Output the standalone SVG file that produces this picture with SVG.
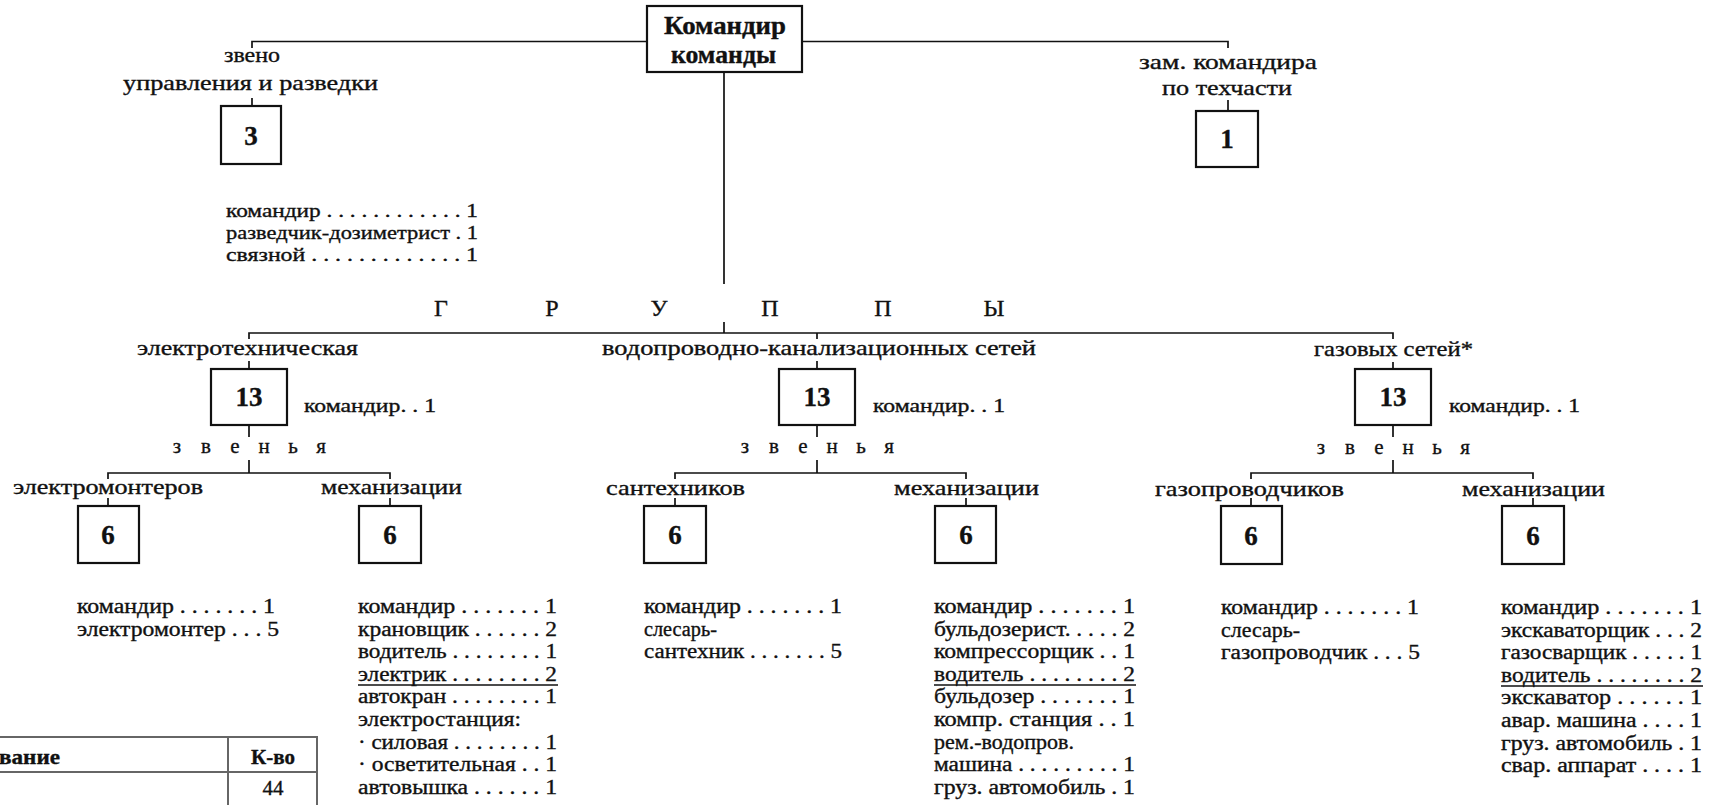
<svg xmlns="http://www.w3.org/2000/svg" width="1723" height="805" viewBox="0 0 1723 805">
<style>
text{font-family:"Liberation Serif","Times New Roman",serif;fill:#111;stroke:#111;stroke-width:0.35}
.lbl{font-size:21px}
.lst{font-size:20px}
.sm{font-size:19px}
.big{font-size:24px}
.b{font-weight:bold}
.num{font-weight:bold;font-size:27px;text-anchor:middle}
.mid{text-anchor:middle}
.box{fill:#fff;stroke:#111;stroke-width:2.2}
.ln{fill:none;stroke:#111;stroke-width:1.7}
.ul{fill:none;stroke:#111;stroke-width:1.5}
.tb{fill:none;stroke:#666;stroke-width:2}
</style>
<rect width="1723" height="805" fill="#fff"/>

<g id="connectors">
  <path class="ln" d="M252 48V41.5H647M802 41.5H1228V48"/>
  <path class="ln" d="M252 98V106"/>
  <path class="ln" d="M1228 100V111"/>
  <path class="ln" d="M724 72V284M724 322V333"/>
  <path class="ln" d="M249 339V333H1393V339M817 333V339"/>
  <path class="ln" d="M249 361V369M817 361V369M1393 362V369"/>
  <path class="ln" d="M249 425V437M249 460V473M817 425V437M817 460V473M1393 425V437M1393 460V473"/>
  <path class="ln" d="M108 479V473H390V479"/>
  <path class="ln" d="M675 479V473H966V479"/>
  <path class="ln" d="M1251 479V473H1533V479"/>
  <path class="ln" d="M108 498V506M390 498V506M675 498V506M966 498V506M1251 498V506M1533 498V506"/>
</g>

<g id="commander">
  <rect class="box" x="647" y="6" width="155" height="66"/>
  <text class="b" font-size="25" x="664" y="34" textLength="122" lengthAdjust="spacingAndGlyphs">Командир</text>
  <text class="b" font-size="25" x="671" y="63" textLength="105" lengthAdjust="spacingAndGlyphs">команды</text>
</g>

<g id="recon">
  <text class="lbl" x="224" y="62" textLength="56" lengthAdjust="spacingAndGlyphs">звено</text>
  <text class="lbl" x="123" y="90" textLength="255" lengthAdjust="spacingAndGlyphs">управления и разведки</text>
  <rect class="box" x="221" y="106" width="60" height="58"/>
  <text class="num" x="251" y="145">3</text>
  <text class="sm" x="226" y="217" textLength="252" lengthAdjust="spacingAndGlyphs">командир . . . . . . . . . . . . 1</text>
  <text class="sm" x="226" y="239" textLength="252" lengthAdjust="spacingAndGlyphs">разведчик-дозиметрист . 1</text>
  <text class="sm" x="226" y="261" textLength="252" lengthAdjust="spacingAndGlyphs">связной . . . . . . . . . . . . . 1</text>
</g>

<g id="deputy">
  <text class="lbl" x="1139" y="69" textLength="178" lengthAdjust="spacingAndGlyphs">зам.  командира</text>
  <text class="lbl" x="1162" y="95" textLength="130" lengthAdjust="spacingAndGlyphs">по техчасти</text>
  <rect class="box" x="1196" y="111" width="62" height="56"/>
  <text class="num" x="1227" y="148">1</text>
</g>

<g id="groups-title">
  <text class="big mid" x="441" y="316">Г</text>
  <text class="big mid" x="552" y="316">Р</text>
  <text class="big mid" x="659" y="316">У</text>
  <text class="big mid" x="770" y="316">П</text>
  <text class="big mid" x="883" y="316">П</text>
  <text class="big mid" x="994" y="316">Ы</text>
</g>

<g id="group-electro">
  <text class="lbl" x="137" y="355" textLength="221" lengthAdjust="spacingAndGlyphs">электротехническая</text>
  <rect class="box" x="211" y="369" width="76" height="56"/>
  <text class="num" x="249" y="406">13</text>
  <text class="sm" x="304" y="412" textLength="132" lengthAdjust="spacingAndGlyphs">командир. . 1</text>
  <text class="lbl mid" x="177 206 235 264 293 321" y="453">звенья</text>
</g>
<g id="group-water">
  <text class="lbl" x="602" y="355" textLength="434" lengthAdjust="spacingAndGlyphs">водопроводно-канализационных сетей</text>
  <rect class="box" x="779" y="369" width="76" height="56"/>
  <text class="num" x="817" y="406">13</text>
  <text class="sm" x="873" y="412" textLength="132" lengthAdjust="spacingAndGlyphs">командир. . 1</text>
  <text class="lbl mid" x="745 774 803 832 861 889" y="453">звенья</text>
</g>
<g id="group-gas">
  <text class="lbl" x="1314" y="356" textLength="159" lengthAdjust="spacingAndGlyphs">газовых сетей*</text>
  <rect class="box" x="1355" y="369" width="76" height="56"/>
  <text class="num" x="1393" y="406">13</text>
  <text class="sm" x="1449" y="412" textLength="131" lengthAdjust="spacingAndGlyphs">командир. . 1</text>
  <text class="lbl mid" x="1321 1350 1379 1408 1437 1465" y="454">звенья</text>
</g>

<g id="unit-electricians">
  <text class="lbl" x="13" y="494" textLength="190" lengthAdjust="spacingAndGlyphs">электромонтеров</text>
  <rect class="box" x="78" y="506" width="61" height="57"/>
  <text class="num" x="108" y="544">6</text>
  <text class="lst" x="77" y="613" textLength="198" lengthAdjust="spacingAndGlyphs">командир . . . . . . . 1</text>
  <text class="lst" x="77" y="636" textLength="202" lengthAdjust="spacingAndGlyphs">электромонтер . . . 5</text>
</g>

<g id="unit-mech-1">
  <text class="lbl" x="321" y="494" textLength="141" lengthAdjust="spacingAndGlyphs">механизации</text>
  <rect class="box" x="359" y="506" width="62" height="57"/>
  <text class="num" x="390" y="544">6</text>
  <text class="lst" x="358" y="613" textLength="199" lengthAdjust="spacingAndGlyphs">командир . . . . . . . 1</text>
  <text class="lst" x="358" y="636" textLength="199" lengthAdjust="spacingAndGlyphs">крановщик . . . . . . 2</text>
  <text class="lst" x="358" y="658" textLength="199" lengthAdjust="spacingAndGlyphs">водитель . . . . . . . . 1</text>
  <text class="lst" x="358" y="681" textLength="199" lengthAdjust="spacingAndGlyphs">электрик . . . . . . . . 2</text>
  <text class="lst" x="358" y="703" textLength="199" lengthAdjust="spacingAndGlyphs">автокран . . . . . . . . 1</text>
  <text class="lst" x="358" y="726" textLength="163" lengthAdjust="spacingAndGlyphs">электростанция:</text>
  <text class="lst" x="358" y="749" textLength="199" lengthAdjust="spacingAndGlyphs">· силовая . . . . . . . . 1</text>
  <text class="lst" x="358" y="771" textLength="199" lengthAdjust="spacingAndGlyphs">· осветительная . . 1</text>
  <text class="lst" x="358" y="794" textLength="199" lengthAdjust="spacingAndGlyphs">автовышка . . . . . . 1</text>
  <path class="ul" d="M358 685H558"/>
</g>

<g id="unit-plumbers">
  <text class="lbl" x="606" y="495" textLength="139" lengthAdjust="spacingAndGlyphs">сантехников</text>
  <rect class="box" x="644" y="506" width="62" height="57"/>
  <text class="num" x="675" y="544">6</text>
  <text class="lst" x="644" y="613" textLength="198" lengthAdjust="spacingAndGlyphs">командир . . . . . . . 1</text>
  <text class="lst" x="644" y="636" textLength="73" lengthAdjust="spacingAndGlyphs">слесарь-</text>
  <text class="lst" x="644" y="658" textLength="198" lengthAdjust="spacingAndGlyphs">сантехник . . . . . . . 5</text>
</g>

<g id="unit-mech-2">
  <text class="lbl" x="894" y="495" textLength="145" lengthAdjust="spacingAndGlyphs">механизации</text>
  <rect class="box" x="935" y="506" width="61" height="57"/>
  <text class="num" x="966" y="544">6</text>
  <text class="lst" x="934" y="613" textLength="201" lengthAdjust="spacingAndGlyphs">командир . . . . . . . 1</text>
  <text class="lst" x="934" y="636" textLength="201" lengthAdjust="spacingAndGlyphs">бульдозерист. . . . . 2</text>
  <text class="lst" x="934" y="658" textLength="201" lengthAdjust="spacingAndGlyphs">компрессорщик . . 1</text>
  <text class="lst" x="934" y="681" textLength="201" lengthAdjust="spacingAndGlyphs">водитель . . . . . . . . 2</text>
  <text class="lst" x="934" y="703" textLength="201" lengthAdjust="spacingAndGlyphs">бульдозер . . . . . . . 1</text>
  <text class="lst" x="934" y="726" textLength="201" lengthAdjust="spacingAndGlyphs">компр.  станция . . 1</text>
  <text class="lst" x="934" y="749" textLength="140" lengthAdjust="spacingAndGlyphs">рем.-водопров.</text>
  <text class="lst" x="934" y="771" textLength="201" lengthAdjust="spacingAndGlyphs">машина . . . . . . . . . 1</text>
  <text class="lst" x="934" y="794" textLength="201" lengthAdjust="spacingAndGlyphs">груз.  автомобиль . 1</text>
  <path class="ul" d="M934 685H1136"/>
</g>

<g id="unit-gasfitters">
  <text class="lbl" x="1155" y="496" textLength="189" lengthAdjust="spacingAndGlyphs">газопроводчиков</text>
  <rect class="box" x="1221" y="506" width="61" height="58"/>
  <text class="num" x="1251" y="545">6</text>
  <text class="lst" x="1221" y="614" textLength="198" lengthAdjust="spacingAndGlyphs">командир . . . . . . . 1</text>
  <text class="lst" x="1221" y="637" textLength="79" lengthAdjust="spacingAndGlyphs">слесарь-</text>
  <text class="lst" x="1221" y="659" textLength="199" lengthAdjust="spacingAndGlyphs">газопроводчик . . . 5</text>
</g>

<g id="unit-mech-3">
  <text class="lbl" x="1462" y="496" textLength="143" lengthAdjust="spacingAndGlyphs">механизации</text>
  <rect class="box" x="1502" y="506" width="62" height="58"/>
  <text class="num" x="1533" y="545">6</text>
  <text class="lst" x="1501" y="614" textLength="201" lengthAdjust="spacingAndGlyphs">командир . . . . . . . 1</text>
  <text class="lst" x="1501" y="637" textLength="201" lengthAdjust="spacingAndGlyphs">экскаваторщик . . . 2</text>
  <text class="lst" x="1501" y="659" textLength="201" lengthAdjust="spacingAndGlyphs">газосварщик . . . . . 1</text>
  <text class="lst" x="1501" y="682" textLength="201" lengthAdjust="spacingAndGlyphs">водитель . . . . . . . . 2</text>
  <text class="lst" x="1501" y="704" textLength="201" lengthAdjust="spacingAndGlyphs">экскаватор . . . . . . 1</text>
  <text class="lst" x="1501" y="727" textLength="201" lengthAdjust="spacingAndGlyphs">авар.  машина . . . . 1</text>
  <text class="lst" x="1501" y="750" textLength="201" lengthAdjust="spacingAndGlyphs">груз.  автомобиль . 1</text>
  <text class="lst" x="1501" y="772" textLength="201" lengthAdjust="spacingAndGlyphs">свар.  аппарат . . . . 1</text>
  <path class="ul" d="M1501 686H1703"/>
</g>

<g id="table">
  <path class="tb" d="M0 737H318M228 737V805M317 737V805M0 772H317"/>
  <text class="lbl b" x="-1" y="764" textLength="61" lengthAdjust="spacingAndGlyphs">вание</text>
  <text class="lbl b mid" x="273" y="764">К-во</text>
  <text class="lbl mid" x="273" y="795">44</text>
</g>
</svg>
